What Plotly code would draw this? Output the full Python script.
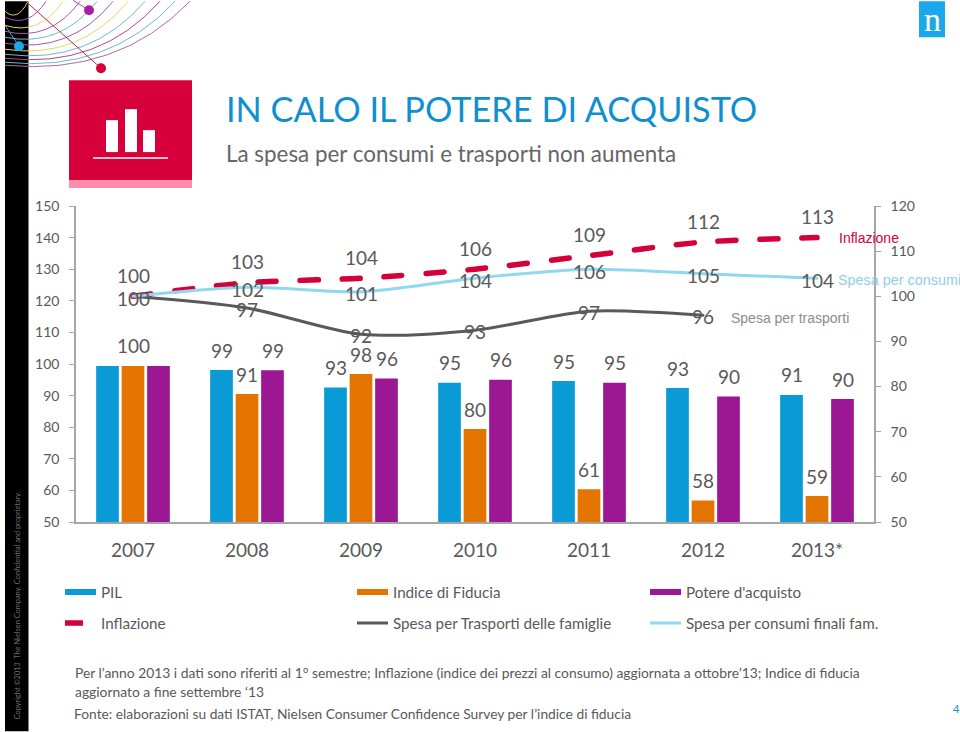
import plotly.graph_objects as go

years = ["2007", "2008", "2009", "2010", "2011", "2012", "2013*"]

# bar heights (left axis)
pil = [99.4, 98.1, 92.6, 94.1, 94.6, 92.4, 90.2]
fiducia = [99.4, 90.5, 96.8, 79.4, 60.4, 56.8, 58.2]
potere = [99.4, 98.0, 95.4, 95.0, 94.1, 89.7, 88.9]

# printed labels of the bars
pil_labels = [None, "99", "93", "95", "95", "93", "91"]
fiducia_labels = ["100", "91", "98", "80", "61", "58", "59"]
potere_labels = [None, "99", "96", "96", "95", "90", "90"]

# lines (right axis)
inflazione = [100, 103, 104, 106, 109, 112, 113]
trasporti = [100, 97.4, 91.6, 92.5, 96.7, 95.8, None]
consumi = [100, 102, 101, 104, 106, 105, 104]

inflazione_labels = ["100", "103", "104", "106", "109", "112", "113"]
trasporti_labels = [None, "97", "92", "93", "97", "96", None]
consumi_labels = ["100", "102", "101", "104", "106", "105", "104"]

TITLE = "IN CALO IL POTERE DI ACQUISTO"
SUBTITLE = "La spesa per consumi e trasporti non aumenta"
NOTE_1 = "Per l’anno 2013 i dati sono riferiti al 1° semestre; Inflazione (indice dei prezzi al consumo) aggiornata a ottobre’13; Indice di fiducia"
NOTE_2 = "aggiornato a fine settembre ‘13"
NOTE_3 = "Fonte: elaborazioni su dati ISTAT, Nielsen Consumer Confidence Survey per l’indice di fiducia"
COPYRIGHT = "Copyright ©2013  The Nielsen Company. Confidential and proprietary."

BLUE, ORANGE, PURPLE = "#0a9bd7", "#e37400", "#9c1794"
RED, DARK, LIGHT = "#d4003a", "#595959", "#8fd8ef"
GREY = "#595959"
AXIS = "#a6a6a6"
FONT = "Lato"

W, H = 960, 732
L, R, T, B = 76, 874, 206, 522.5


def fx(p):
    return (p - L) / (R - L)


def fy(p):
    return (B - p) / (B - T)


fig = go.Figure()
for name, vals, col in [("PIL", pil, BLUE), ("Indice di Fiducia", fiducia, ORANGE), ("Potere d'acquisto", potere, PURPLE)]:
    fig.add_trace(go.Bar(x=years, y=vals, name=name, marker=dict(color=col, line_width=0), showlegend=False))

# legend entries of the bars use a wide flat key, as in the reference
for name, col, leg in [("PIL", BLUE, "legend"), ("Indice di Fiducia", ORANGE, "legend2"), ("Potere d'acquisto", PURPLE, "legend3")]:
    fig.add_trace(go.Scatter(x=[None], y=[None], name=name, mode="lines", legend=leg,
                             line=dict(color=col, width=6)))

for name, vals, col, dash, width, leg in [
    ("Inflazione", inflazione, RED, "18px,24px", 5.5, "legend4"),
    ("Spesa per Trasporti delle famiglie", trasporti, DARK, "solid", 3, "legend5"),
    ("Spesa per consumi finali fam.", consumi, LIGHT, "solid", 3, "legend6"),
]:
    fig.add_trace(go.Scatter(x=years, y=vals, name=name, mode="lines", yaxis="y2", legend=leg,
                             connectgaps=False,
                             line=dict(color=col, dash=dash, width=width, shape="spline", smoothing=0.8)))

ann = []


def value_labels(labels, vals, yref, xshift, yshift):
    for i, (lab, v) in enumerate(zip(labels, vals)):
        if lab is None:
            continue
        ann.append(dict(x=i, y=v, xref="x", yref=yref, text=lab, showarrow=False, xshift=xshift, yshift=yshift,
                        yanchor="middle", xanchor="center", font=dict(family=FONT, size=19, color=GREY)))


value_labels(pil_labels, pil, "y", -25.5, 20)
value_labels(fiducia_labels, fiducia, "y", 0, 20)
value_labels(potere_labels, potere, "y", 25.5, 20)
value_labels(inflazione_labels, inflazione, "y2", 0, 21)
value_labels(consumi_labels, consumi, "y2", 0, -2)
value_labels(trasporti_labels, trasporti, "y2", 0, -1)


def free_text(text, x, y, size, color, family=FONT, xanchor="left", angle=0):
    ann.append(dict(x=fx(x), y=fy(y), xref="paper", yref="paper", text=text, showarrow=False, xanchor=xanchor,
                    yanchor="middle", textangle=angle, font=dict(family=family, size=size, color=color)))


free_text("Inflazione", 837, 238, 14, RED, "Liberation Sans")
free_text("Spesa per consumi", 836, 280, 14.4, "#8fd0e4", "Liberation Sans")
free_text("Spesa per trasporti", 729, 318, 14, "#8c8c8c", "Liberation Sans")
free_text(SUBTITLE, 224, 153, 22.4, "#666666")
free_text(NOTE_1, 73, 673, 13.85, GREY)
free_text(NOTE_2, 73, 692, 13.85, GREY)
free_text(NOTE_3, 72, 714, 13.8, GREY)
free_text("4", 956, 709, 11, "#1a8fc0", xanchor="center")
free_text(COPYRIGHT, 17, 606, 7.4, "#6e6e6e", xanchor="center", angle=-90)
free_text("n", 932, 19, 34, "white", "Liberation Serif", xanchor="center")

shapes = []


def rect(x0, y0, x1, y1, color):
    shapes.append(dict(type="rect", xref="paper", yref="paper", x0=fx(x0), x1=fx(x1), y0=fy(y1), y1=fy(y0),
                       fillcolor=color, line_width=0, layer="above"))


def seg(x0, y0, x1, y1, color, width=1):
    shapes.append(dict(type="line", xref="paper", yref="paper", x0=fx(x0), x1=fx(x1), y0=fy(y0), y1=fy(y1),
                       line=dict(color=color, width=width), layer="above"))


def dot(x, y, r, color):
    shapes.append(dict(type="circle", xref="paper", yref="paper", x0=fx(x - r), x1=fx(x + r), y0=fy(y + r), y1=fy(y - r),
                       fillcolor=color, line_width=0, layer="above"))


rect(5, 1, 28.5, 732, "#000000")

# decorative arcs of the template (left-edge y, top-edge x, colour)
arcs = [(65, 190, "#b06aa8"), (62, 175, "#6cbcc8"), (58, 160, "#b0487c"), (54, 145, "#6cbcc8"), (49, 128, "#e6d667"),
        (43, 113, "#a05ab0"), (37, 97, "#6cbcc8"), (31, 80, "#a05ab0"), (25, 63, "#e6d667"), (17, 46, "#a05ab0"),
        (11, 28, "#d8c860")]
for ly, tx, col in arcs:
    cx, cy = fx(tx * 0.62), fy(ly + 11)
    path = f"M {fx(5)} {fy(ly)} Q {cx} {cy} {fx(tx)} {fy(1)}"
    shapes.append(dict(type="path", xref="paper", yref="paper", path=path, line=dict(color=col, width=1), layer="above"))

seg(28, 3, 101, 68, "#a8324e")
seg(5, 25, 19, 46, "#4aa8c8")
seg(73, 0, 89, 10, "#a05ab0")
dot(19, 46, 5, "#1aa7ec")
dot(89, 10, 5, "#a81ea8")
dot(101, 68, 5, "#d4003a")

rect(69, 80, 192, 180, "#d8003a")
rect(69, 180, 192, 188, "#ff8ca8")
rect(106, 120, 118, 152, "white")
rect(125, 109, 137, 152, "white")
rect(143, 130, 155, 152, "white")
seg(93, 158, 168, 158, "white", 1.5)
rect(919, 1, 945, 37, "#1aa7ec")


def legend_at(x, y):
    return dict(orientation="v", xref="container", yref="container", x=x / W, y=1 - y / H, xanchor="left",
                yanchor="middle", bgcolor="rgba(0,0,0,0)", font=dict(family=FONT, size=15.2, color=GREY),
                itemwidth=31, itemclick=False)


fig.update_layout(
    width=W, height=H, autosize=False,
    margin=dict(l=L, r=W - R, t=T, b=H - B, autoexpand=False),
    paper_bgcolor="white", plot_bgcolor="white",
    font=dict(family=FONT, color=GREY, size=14),
    title=dict(text=TITLE, x=226 / W, xref="container", xanchor="left", y=1 - 110 / H, yref="container",
               yanchor="middle", font=dict(family=FONT, size=34.3, color="#0f8fd0")),
    barmode="group", bargap=0.329, bargroupgap=0.11,
    annotations=ann, shapes=shapes,
    xaxis=dict(type="category", categoryorder="array", categoryarray=years, range=[-0.5, 6.5], showgrid=False,
               showline=True, linecolor=AXIS, linewidth=1.5, ticks="", ticklabelstandoff=10,
               tickfont=dict(family=FONT, size=19, color=GREY), zeroline=False),
    yaxis=dict(range=[50, 150], dtick=10, tick0=50, showgrid=False, showline=True, linecolor=AXIS, linewidth=1.5,
               ticks="outside", ticklen=5, tickcolor=AXIS, ticklabelstandoff=7,
               tickfont=dict(family=FONT, size=14, color=GREY), zeroline=False),
    yaxis2=dict(range=[50, 120], dtick=10, tick0=50, overlaying="y", side="right", showgrid=False, showline=True,
                linecolor=AXIS, linewidth=1.5, ticks="outside", ticklen=5, tickcolor=AXIS, ticklabelstandoff=7,
                tickfont=dict(family=FONT, size=14, color=GREY), zeroline=False),
    legend=legend_at(60, 592), legend2=legend_at(352, 592), legend3=legend_at(645, 592),
    legend4=legend_at(60, 623), legend5=legend_at(352, 623), legend6=legend_at(645, 623),
    showlegend=True,
)

post = ("document.body.style.margin='0';"
        "var s=document.createElement('style');s.textContent='.scatterlayer .js-line{stroke-linecap:round}';"
        "document.head.appendChild(s);")
fig.write_html("out.html", config=dict(displayModeBar=False), post_script=post)
